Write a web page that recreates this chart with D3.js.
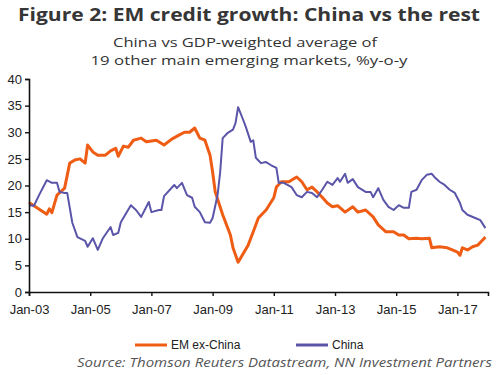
<!DOCTYPE html>
<html>
<head>
<meta charset="utf-8">
<script src="https://cdn.jsdelivr.net/npm/d3@7"></script>
<style>
  body { margin: 0; background: #fff; }
  svg { display: block; }
</style>
</head>
<body>
<div id="chart"></div>
<script>
// EM ex-China credit growth, %y-o-y
const emDates = ["2003-01","2003-08","2003-09","2003-10","2003-12","2004-03","2004-05","2004-07","2004-09","2004-11","2004-12",
  "2005-02","2005-04","2005-07","2005-09","2005-11","2005-12","2006-02","2006-04","2006-06","2006-09","2006-11",
  "2007-03","2007-06","2007-09","2007-12","2008-02","2008-04","2008-06","2008-08","2008-10","2008-12",
  "2009-01","2009-02","2009-05","2009-08","2009-09","2009-11","2009-12","2010-03","2010-05","2010-07","2010-10",
  "2011-01","2011-02","2011-04","2011-07","2011-10","2011-12","2012-02","2012-04","2012-06","2012-08","2012-10","2012-12",
  "2013-02","2013-05","2013-08","2013-10","2014-01","2014-04","2014-06","2014-09","2014-12",
  "2015-02","2015-04","2015-06","2015-09","2015-11","2016-02","2016-03","2016-06","2016-09","2016-11",
  "2017-01","2017-02","2017-03","2017-05","2017-07","2017-09","2017-11","2017-12"];
const emValues = [16.8,14.6,15.6,14.9,18.2,19.5,24.2,24.8,25.0,24.2,27.6,
  26.3,25.7,25.7,26.5,27.0,25.5,27.4,27.2,28.5,28.9,28.2,
  28.5,27.6,28.7,29.5,30.0,30.0,30.8,28.9,28.5,25.7,
  22.5,18.8,14.5,10.7,8.3,5.6,6.4,8.8,11.3,13.9,15.4,
  17.7,19.7,20.7,20.7,21.6,20.7,19.2,19.7,18.8,17.8,16.7,16.0,
  16.2,15.0,16.0,15.0,15.4,14.1,12.6,11.3,11.3,
  10.7,10.7,10.0,10.1,10.0,10.1,8.3,8.5,8.3,7.9,
  7.5,6.9,8.3,7.9,8.5,8.8,9.8,10.3];

// China credit growth, %y-o-y
const chinaDates = ["2003-01","2003-03","2003-05","2003-08","2003-10","2003-12","2004-01","2004-03","2004-04","2004-06","2004-08","2004-11","2004-12",
  "2005-02","2005-04","2005-06","2005-09","2005-10","2005-12","2006-01","2006-05","2006-07","2006-09","2006-12",
  "2007-01","2007-04","2007-05","2007-06","2007-10","2007-11","2008-01","2008-03","2008-05","2008-06","2008-08","2008-10","2008-12",
  "2009-01","2009-03","2009-04","2009-05","2009-07","2009-09","2009-10","2009-11","2010-01","2010-02","2010-04","2010-05","2010-06","2010-08","2010-10","2010-12",
  "2011-02","2011-03","2011-05","2011-08","2011-10","2011-12","2012-02","2012-04","2012-06","2012-08","2012-10","2012-12",
  "2013-02","2013-03","2013-05","2013-06","2013-08","2013-10","2014-01","2014-03","2014-04","2014-06","2014-08","2014-10","2014-12",
  "2015-02","2015-04","2015-06","2015-07","2015-09","2015-11","2016-01","2016-03","2016-04","2016-06","2016-08","2016-10","2016-12",
  "2017-02","2017-03","2017-05","2017-08","2017-10","2017-12"];
const chinaValues = [16.3,16.2,18.2,21.0,20.5,20.5,18.8,18.6,18.6,13.0,10.3,9.6,8.5,
  10.1,7.9,10.1,12.2,10.7,11.1,13.1,16.3,15.4,14.1,16.9,
  15.0,15.4,15.4,18.0,20.1,19.5,20.5,18.2,17.7,16.0,15.0,13.1,13.0,
  13.9,18.2,22.5,28.9,29.9,30.5,31.7,34.7,32.3,31.0,28.2,28.5,25.2,24.2,24.4,23.8,
  23.3,20.5,20.5,19.7,18.2,17.8,18.8,18.6,17.8,19.2,20.7,20.1,
  21.4,20.7,22.2,20.5,21.2,19.7,18.8,18.8,17.8,19.5,17.3,16.0,15.4,
  16.3,15.8,15.8,18.8,19.2,21.0,22.0,22.2,21.6,20.7,20.1,19.2,18.6,
  16.7,15.4,14.5,13.9,13.5,12.0];

const yTicks = [0, 5, 10, 15, 20, 25, 30, 35, 40];
const xTickYears = [2003, 2005, 2007, 2009, 2011, 2013, 2015, 2017];

const seriesNames = ["EM ex-China", "China"];
const seriesColors = ["#ef5d15", "#5a55a8"];

const width = 500, height = 375;
const margin = { top: 79, right: 12, bottom: 83, left: 29 };

const parseMonth = d3.timeParse("%Y-%m");

const svg = d3.select("#chart").append("svg")
  .attr("width", width)
  .attr("height", height);

// title
svg.append("text")
  .attr("x", 249).attr("y", 21)
  .attr("text-anchor", "middle")
  .attr("font-family", "'Open Sans', sans-serif")
  .attr("font-weight", "bold")
  .attr("font-size", "18.5px")
  .attr("fill", "#363636")
  .attr("textLength", 462)
  .attr("lengthAdjust", "spacingAndGlyphs")
  .text("Figure 2: EM credit growth: China vs the rest");

// subtitle, two lines
svg.append("text")
  .attr("x", 245).attr("y", 47)
  .attr("text-anchor", "middle")
  .attr("font-family", "'Open Sans', sans-serif")
  .attr("font-size", "13px")
  .attr("fill", "#333")
  .attr("textLength", 264).attr("lengthAdjust", "spacingAndGlyphs")
  .text("China vs GDP-weighted average of");
svg.append("text")
  .attr("x", 249).attr("y", 65)
  .attr("text-anchor", "middle")
  .attr("font-family", "'Open Sans', sans-serif")
  .attr("font-size", "13px")
  .attr("fill", "#333")
  .attr("textLength", 317).attr("lengthAdjust", "spacingAndGlyphs")
  .text("19 other main emerging markets, %y-o-y");

const x = d3.scaleTime()
  .domain([new Date(2003, 0, 1), new Date(2018, 0, 1)])
  .range([margin.left, width - margin.right]);

const y = d3.scaleLinear()
  .domain([0, 40])
  .range([height - margin.bottom, margin.top]);

const line = d3.line()
  .x(d => x(d.date))
  .y(d => y(d.value));

const emData = emDates.map((d, i) => ({ date: parseMonth(d), value: emValues[i] }));
const chinaData = chinaDates.map((d, i) => ({ date: parseMonth(d), value: chinaValues[i] }));

// lines: orange first, china on top
svg.append("path")
  .datum(emData)
  .attr("fill", "none")
  .attr("stroke", seriesColors[0])
  .attr("stroke-width", 3)
  .attr("stroke-linejoin", "round")
  .attr("d", line);

svg.append("path")
  .datum(chinaData)
  .attr("fill", "none")
  .attr("stroke", seriesColors[1])
  .attr("stroke-width", 2)
  .attr("stroke-linejoin", "round")
  .attr("d", line);

// axes
const yAxis = svg.append("g")
  .attr("transform", `translate(${margin.left},0)`)
  .call(d3.axisLeft(y).tickValues(yTicks).tickSize(4).tickPadding(3));

const xAxis = svg.append("g")
  .attr("transform", `translate(0,${height - margin.bottom})`)
  .call(d3.axisBottom(x)
    .tickValues(xTickYears.map(yr => new Date(yr, 0, 1)))
    .tickFormat(d3.timeFormat("Jan-%y"))
    .tickSize(4).tickPadding(9));

[yAxis, xAxis].forEach(ax => {
  ax.select(".domain").attr("stroke", "#111").attr("stroke-width", 1.6);
  ax.selectAll(".tick line").attr("stroke", "#111").attr("stroke-width", 1.4);
  ax.selectAll("text")
    .attr("font-family", "'Liberation Sans', Arial, sans-serif")
    .attr("font-size", "13px")
    .attr("fill", "#222");
});

// legend
const legend = svg.append("g").attr("transform", "translate(135,345)");
const legendX = [0, 161];
seriesNames.forEach((name, i) => {
  const item = legend.append("g").attr("transform", `translate(${legendX[i]},0)`);
  item.append("line")
    .attr("x1", 0).attr("x2", 32)
    .attr("stroke", seriesColors[i])
    .attr("stroke-width", 3);
  item.append("text")
    .attr("x", 36).attr("y", 4)
    .attr("font-family", "'Liberation Sans', Arial, sans-serif")
    .attr("font-size", "12px")
    .attr("fill", "#222")
    .text(name);
});

// source
svg.append("text")
  .attr("x", 492).attr("y", 367)
  .attr("text-anchor", "end")
  .attr("font-family", "'Open Sans', sans-serif")
  .attr("font-style", "italic")
  .attr("font-size", "13px")
  .attr("fill", "#555")
  .attr("textLength", 415)
  .attr("lengthAdjust", "spacingAndGlyphs")
  .text("Source: Thomson Reuters Datastream, NN Investment Partners");
</script>
</body>
</html>
